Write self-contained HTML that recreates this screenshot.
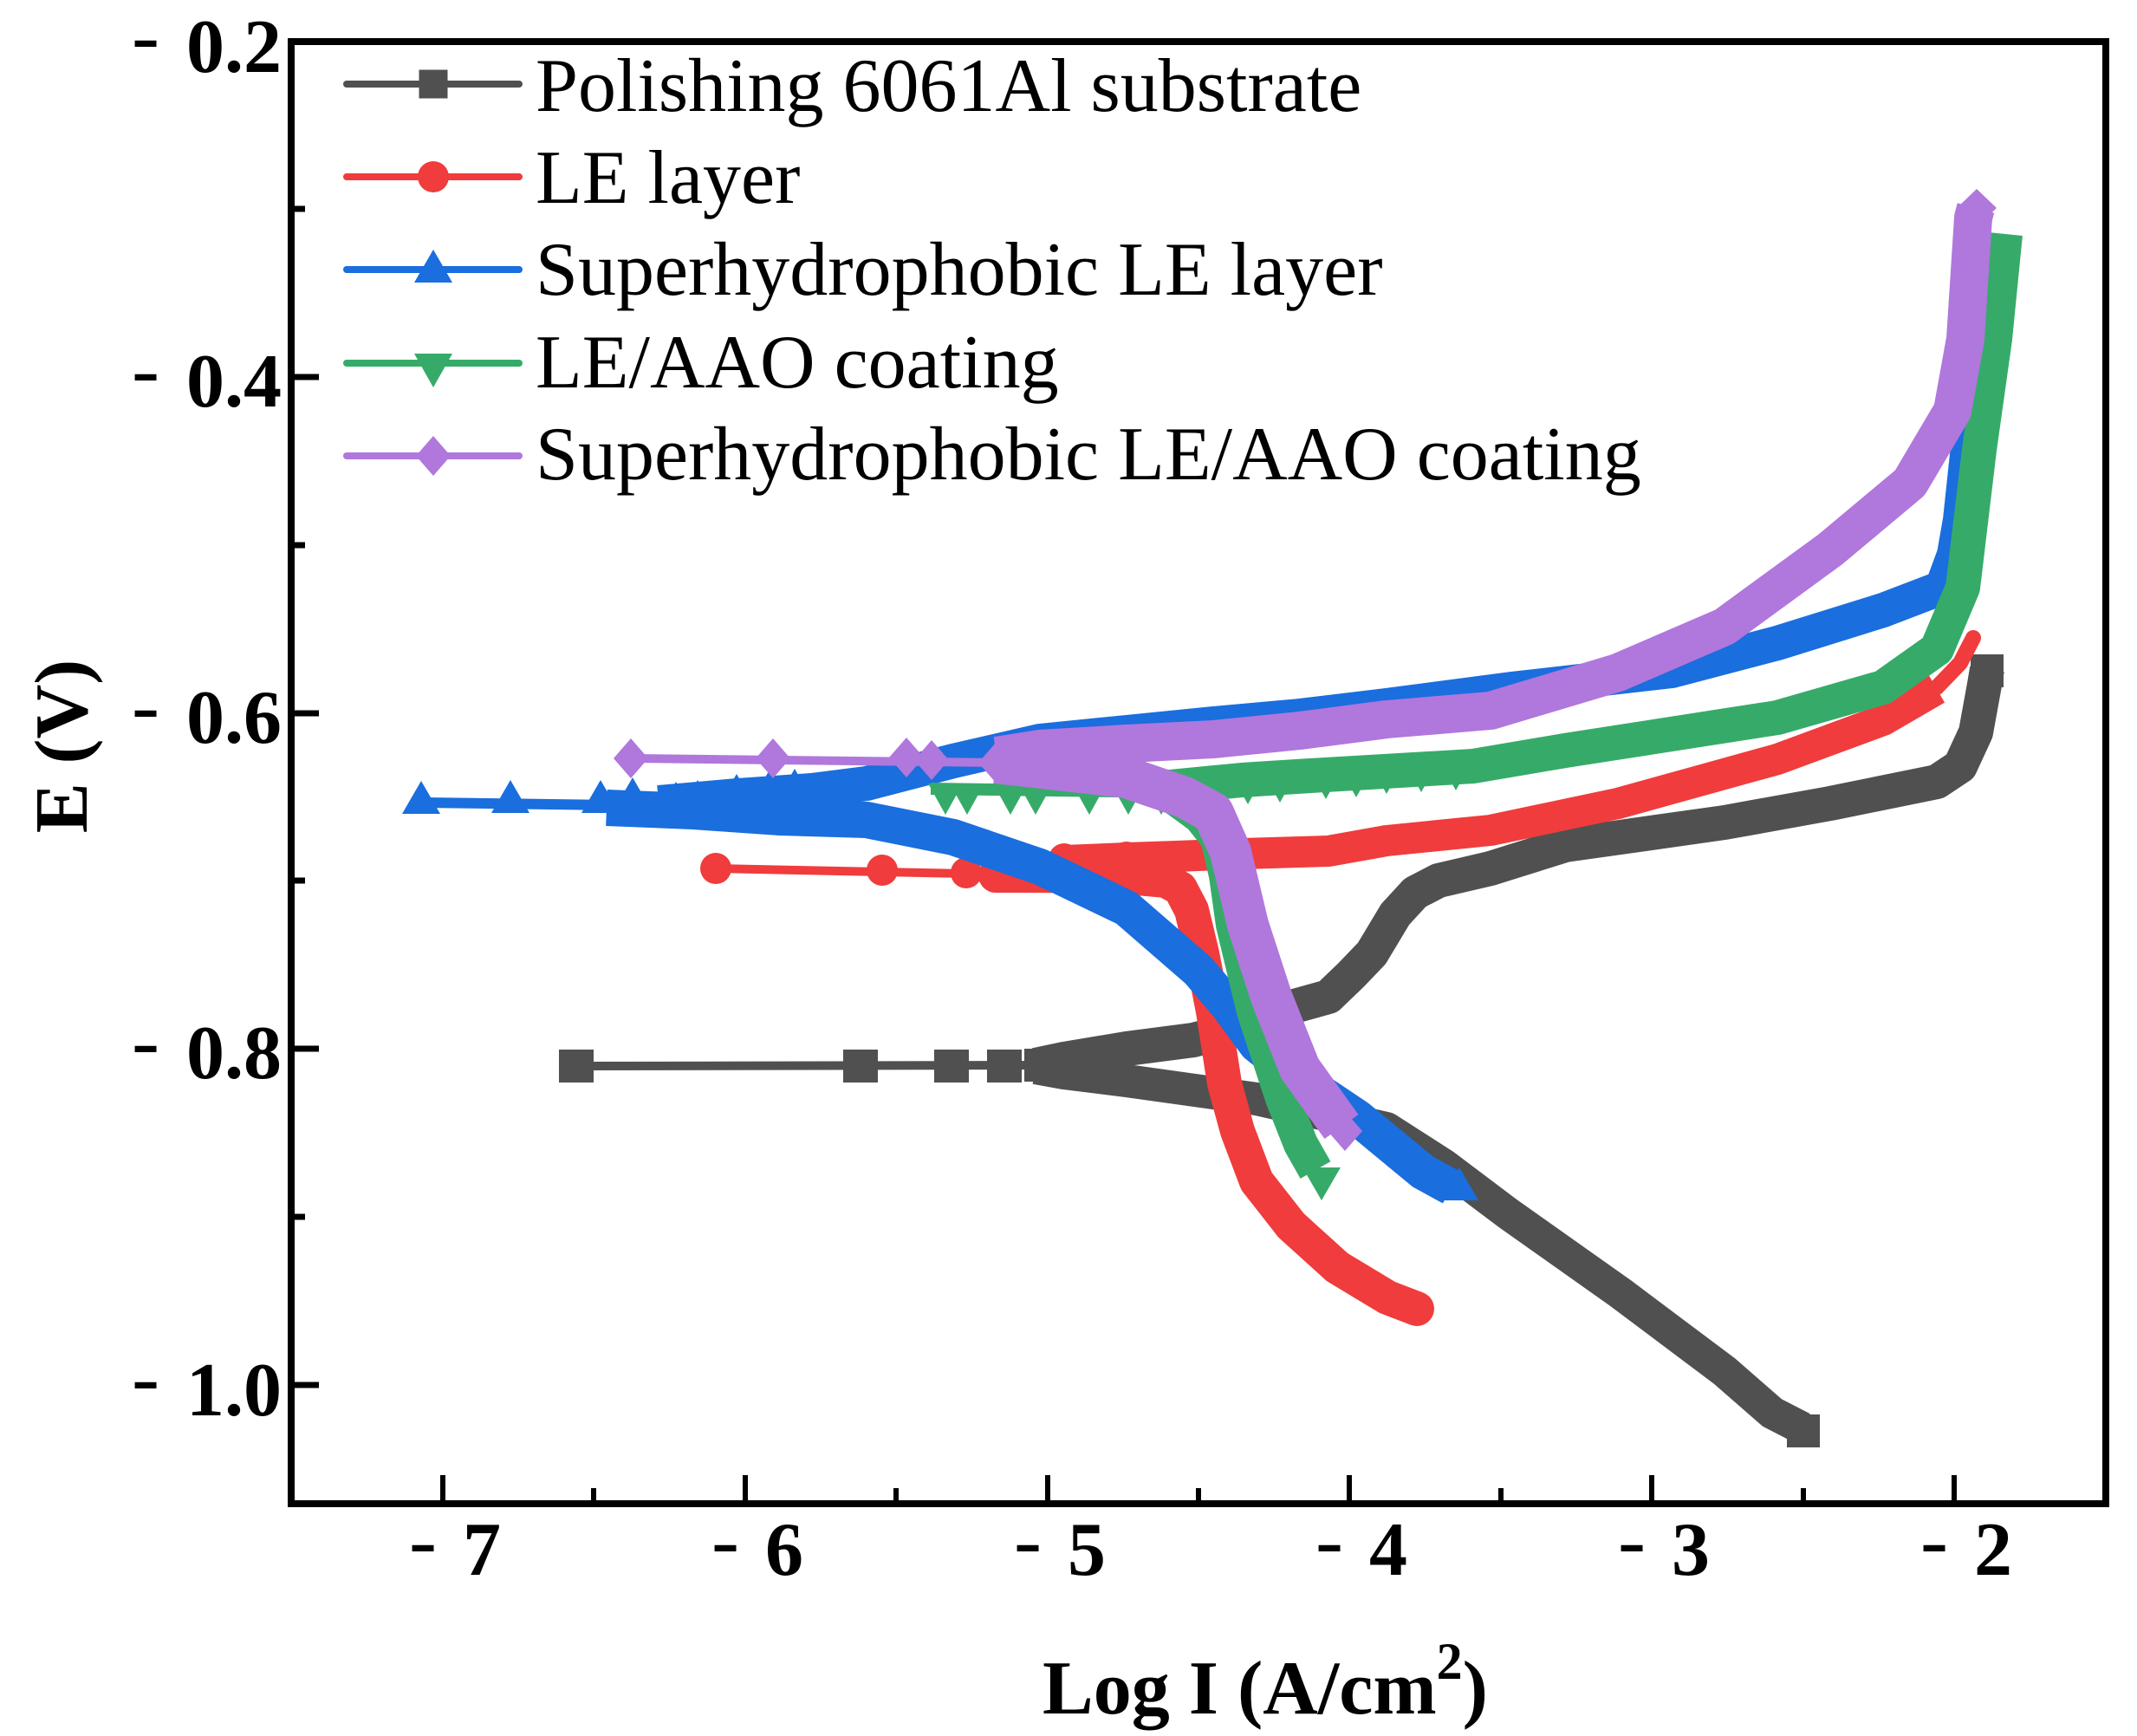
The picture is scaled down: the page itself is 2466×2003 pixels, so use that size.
<!DOCTYPE html>
<html><head><meta charset="utf-8"><style>
html,body{margin:0;padding:0;background:#fff;}
svg{display:block;}
text{font-family:"Liberation Serif","Times New Roman",serif;}
</style></head><body>
<svg width="2466" height="2003" viewBox="0 0 2466 2003" xmlns="http://www.w3.org/2000/svg">
<rect width="2466" height="2003" fill="#fff"/>

<!-- ===== Gray: Polishing 6061Al substrate ===== -->
<g fill="#505050" stroke="none">
<polyline points="665,1230 1210,1229" fill="none" stroke="#505050" stroke-width="10"/>
<polyline points="1195,1229 1228,1222 1300,1210 1377,1200 1435,1185 1490,1162 1533,1150 1559,1125 1583,1100 1610,1055 1633,1030 1660,1016 1720,1002 1806,975 1990,949 2112,927 2235,902 2262,884 2280,845 2290,790 2293,772" fill="none" stroke="#505050" stroke-width="40" stroke-linejoin="round"/>
<polyline points="1195,1232 1228,1238 1300,1247 1450,1268 1600,1302 1667,1345 1740,1400 1870,1492 1990,1582 2045,1630 2080,1648" fill="none" stroke="#505050" stroke-width="38" stroke-linejoin="round"/>
<rect x="645" y="1211" width="40" height="38"/>
<rect x="973" y="1211" width="40" height="38"/>
<rect x="1078" y="1211" width="40" height="38"/>
<rect x="1139" y="1211" width="40" height="38"/>
<rect x="1182" y="1210" width="40" height="38"/>
<rect x="2274" y="755" width="38" height="38"/>
<rect x="2062" y="1632" width="38" height="38"/>
</g>

<!-- ===== Red: LE layer ===== -->
<g fill="#f03c3c" stroke="none">
<polyline points="826,1002 1160,1009" fill="none" stroke="#f03c3c" stroke-width="10"/>
<polyline points="1149,1010 1200,1010 1300,1012 1345,1016 1362,1025 1375,1050 1387,1100 1400,1167 1413,1250 1428,1305 1450,1363 1490,1414 1543,1462 1601,1497 1635,1510" fill="none" stroke="#f03c3c" stroke-width="40" stroke-linejoin="round" stroke-linecap="round"/>
<polyline points="1228,993 1300,990 1358,988 1433,985 1533,982 1600,970 1720,958 1867,927 2051,876 2173,831 2235,795" fill="none" stroke="#f03c3c" stroke-width="36" stroke-linejoin="round"/>
<polyline points="2200,815 2235,793 2262,765 2277,736" fill="none" stroke="#f03c3c" stroke-width="18" stroke-linejoin="round" stroke-linecap="round"/>
<circle cx="826" cy="1002" r="18"/>
<circle cx="1018" cy="1004" r="18"/>
<circle cx="1115" cy="1007" r="18"/>
<circle cx="1150" cy="1010" r="18"/>
<circle cx="1228" cy="991" r="18"/>
<circle cx="1300" cy="989" r="18"/>
<circle cx="1358" cy="989" r="18"/>
</g>

<!-- ===== Blue: Superhydrophobic LE layer ===== -->
<g fill="#1a6ede" stroke="none">
<polyline points="486,926 710,929" fill="none" stroke="#1a6ede" stroke-width="12"/>
<polyline points="700,932 800,936 900,943 1000,946 1100,966 1200,1000 1300,1048 1383,1120 1417,1160 1450,1205 1500,1245 1567,1290 1642,1352 1675,1370" fill="none" stroke="#1a6ede" stroke-width="42" stroke-linejoin="round"/>
<polyline points="760,926 850,918 937,912 1000,904 1100,878 1200,855 1300,845 1400,835 1500,826 1600,814 1745,795 1929,774 2051,742 2173,704 2241,678 2255,640 2262,600 2274,487 2281,436" fill="none" stroke="#1a6ede" stroke-width="40" stroke-linejoin="round"/>
<polygon points="486,901 464,939 508,939"/>
<polygon points="589,900 567,938 611,938"/>
<polygon points="693,900 671,938 715,938"/>
<polygon points="730,897 708,935 752,935"/>
<polygon points="780,902 758,940 802,940"/>
<polygon points="805,900 783,938 827,938"/>
<polygon points="850,893 828,931 872,931"/>
<polygon points="887,890 865,928 909,928"/>
<polygon points="917,887 895,925 939,925"/>
<polygon points="1684,1347 1662,1385 1706,1385"/>
</g>

<!-- ===== Green: LE/AAO coating ===== -->
<g fill="#36ab69" stroke="none">
<polyline points="1074,910 1365,914" fill="none" stroke="#36ab69" stroke-width="14"/>
<polyline points="1350,908 1433,900 1512,895 1700,884 1806,866 2051,828 2173,793 2235,749 2265,678 2284,519 2302,391 2314,270" fill="none" stroke="#36ab69" stroke-width="40" stroke-linejoin="round"/>
<polyline points="1352,918 1385,942 1405,967 1415,1010 1423,1067 1447,1167 1480,1267 1501,1320 1518,1350" fill="none" stroke="#36ab69" stroke-width="40" stroke-linejoin="round"/>
<polygon points="1091,940 1071,904 1111,904"/>
<polygon points="1116,940 1096,904 1136,904"/>
<polygon points="1166,940 1146,904 1186,904"/>
<polygon points="1195,940 1175,904 1215,904"/>
<polygon points="1257,940 1237,904 1277,904"/>
<polygon points="1302,940 1282,904 1322,904"/>
<polygon points="1340,940 1320,904 1360,904"/>
<polygon points="1440,928 1420,892 1460,892"/>
<polygon points="1477,926 1457,890 1497,890"/>
<polygon points="1530,922 1510,886 1550,886"/>
<polygon points="1565,920 1545,884 1585,884"/>
<polygon points="1600,916 1580,880 1620,880"/>
<polygon points="1640,914 1620,878 1660,878"/>
<polygon points="1680,912 1660,876 1700,876"/>
<polygon points="1525,1385 1503,1347 1547,1347"/>
</g>

<!-- ===== Purple: Superhydrophobic LE/AAO coating ===== -->
<g fill="#b077dd" stroke="none">
<polyline points="728,875 1160,880" fill="none" stroke="#b077dd" stroke-width="10"/>
<polyline points="1149,880 1220,888 1300,897 1367,920 1400,938 1420,983 1440,1067 1467,1150 1500,1233 1548,1300" fill="none" stroke="#b077dd" stroke-width="48" stroke-linejoin="round"/>
<polyline points="1150,872 1200,864 1300,858 1400,853 1500,843 1600,830 1720,820 1867,776 1990,723 2112,634 2204,557 2253,474 2268,391 2277,251 2280,240" fill="none" stroke="#b077dd" stroke-width="44" stroke-linejoin="round"/>
<polygon points="728,852 748,875 728,898 708,875"/>
<polygon points="892,852 912,875 892,898 872,875"/>
<polygon points="1046,851 1066,874 1046,897 1026,874"/>
<polygon points="1075,854 1095,877 1075,900 1055,877"/>
<polygon points="1149,857 1169,880 1149,903 1129,880"/>
<polygon points="1552,1282 1572,1305 1552,1328 1532,1305"/>
<polygon points="2281,218 2304,240 2281,262 2258,240"/>
</g>

<!-- ===== Axes frame ===== -->
<rect x="336" y="48" width="2094" height="1687" fill="none" stroke="#000" stroke-width="8"/>

<!-- Y ticks -->
<g stroke="#000" stroke-width="7">
<line x1="336" y1="435" x2="368" y2="435"/>
<line x1="336" y1="823" x2="368" y2="823"/>
<line x1="336" y1="1210" x2="368" y2="1210"/>
<line x1="336" y1="1598" x2="368" y2="1598"/>
<line x1="336" y1="241" x2="352" y2="241"/>
<line x1="336" y1="629" x2="352" y2="629"/>
<line x1="336" y1="1016" x2="352" y2="1016"/>
<line x1="336" y1="1404" x2="352" y2="1404"/>
</g>
<!-- X ticks -->
<g stroke="#000" stroke-width="6">
<line x1="511" y1="1735" x2="511" y2="1702"/>
<line x1="860" y1="1735" x2="860" y2="1702"/>
<line x1="1209" y1="1735" x2="1209" y2="1702"/>
<line x1="1557" y1="1735" x2="1557" y2="1702"/>
<line x1="1906" y1="1735" x2="1906" y2="1702"/>
<line x1="2255" y1="1735" x2="2255" y2="1702"/>
<line x1="685" y1="1735" x2="685" y2="1717"/>
<line x1="1034" y1="1735" x2="1034" y2="1717"/>
<line x1="1383" y1="1735" x2="1383" y2="1717"/>
<line x1="1732" y1="1735" x2="1732" y2="1717"/>
<line x1="2081" y1="1735" x2="2081" y2="1717"/>
</g>

<!-- Y tick labels -->
<g font-size="88" font-weight="bold" text-anchor="end" fill="#000">
<text x="325" y="83">0.2</text>
<text x="325" y="469">0.4</text>
<text x="325" y="857">0.6</text>
<text x="325" y="1244">0.8</text>
<text x="325" y="1633">1.0</text>
</g>
<g font-size="96" text-anchor="middle" fill="#000">
<text x="168" y="73">-</text>
<text x="168" y="458">-</text>
<text x="168" y="846">-</text>
<text x="168" y="1233">-</text>
<text x="168" y="1621">-</text>
</g>

<!-- X tick labels -->
<g font-size="88" font-weight="bold" text-anchor="middle" fill="#000">
<text x="556" y="1817">7</text>
<text x="905" y="1817">6</text>
<text x="1254" y="1817">5</text>
<text x="1602" y="1817">4</text>
<text x="1951" y="1817">3</text>
<text x="2300" y="1817">2</text>
</g>
<g font-size="96" text-anchor="middle" fill="#000">
<text x="488" y="1809">-</text>
<text x="837" y="1809">-</text>
<text x="1186" y="1809">-</text>
<text x="1534" y="1809">-</text>
<text x="1883" y="1809">-</text>
<text x="2232" y="1809">-</text>
</g>

<!-- Axis titles -->
<text transform="translate(100,861) rotate(-90)" text-anchor="middle" font-size="87" font-weight="bold" fill="#000">E (V)</text>
<text x="1460" y="1977" text-anchor="middle" font-size="88" font-weight="bold" fill="#000">Log I (A/cm<tspan font-size="60" dy="-40">2</tspan><tspan dy="40">)</tspan></text>

<!-- Legend -->
<g stroke-width="8" stroke-linecap="round">
<line x1="400" y1="97" x2="599" y2="97" stroke="#505050"/>
<line x1="400" y1="204" x2="599" y2="204" stroke="#f03c3c"/>
<line x1="400" y1="311" x2="599" y2="311" stroke="#1a6ede"/>
<line x1="400" y1="419" x2="599" y2="419" stroke="#36ab69"/>
<line x1="400" y1="526" x2="599" y2="526" stroke="#b077dd"/>
</g>
<rect x="483.5" y="80.5" width="33" height="33" fill="#505050"/>
<circle cx="500" cy="204" r="18" fill="#f03c3c"/>
<polygon points="500,288 478,326 522,326" fill="#1a6ede"/>
<polygon points="500,447 478,408 522,408" fill="#36ab69"/>
<polygon points="500,503 520,526 500,549 480,526" fill="#b077dd"/>
<g font-size="88" fill="#000">
<text x="618" y="128">Polishing 6061Al substrate</text>
<text x="618" y="234">LE layer</text>
<text x="618" y="340">Superhydrophobic LE layer</text>
<text x="618" y="447">LE/AAO coating</text>
<text x="618" y="553">Superhydrophobic LE/AAO coating</text>
</g>
</svg>
</body></html>
